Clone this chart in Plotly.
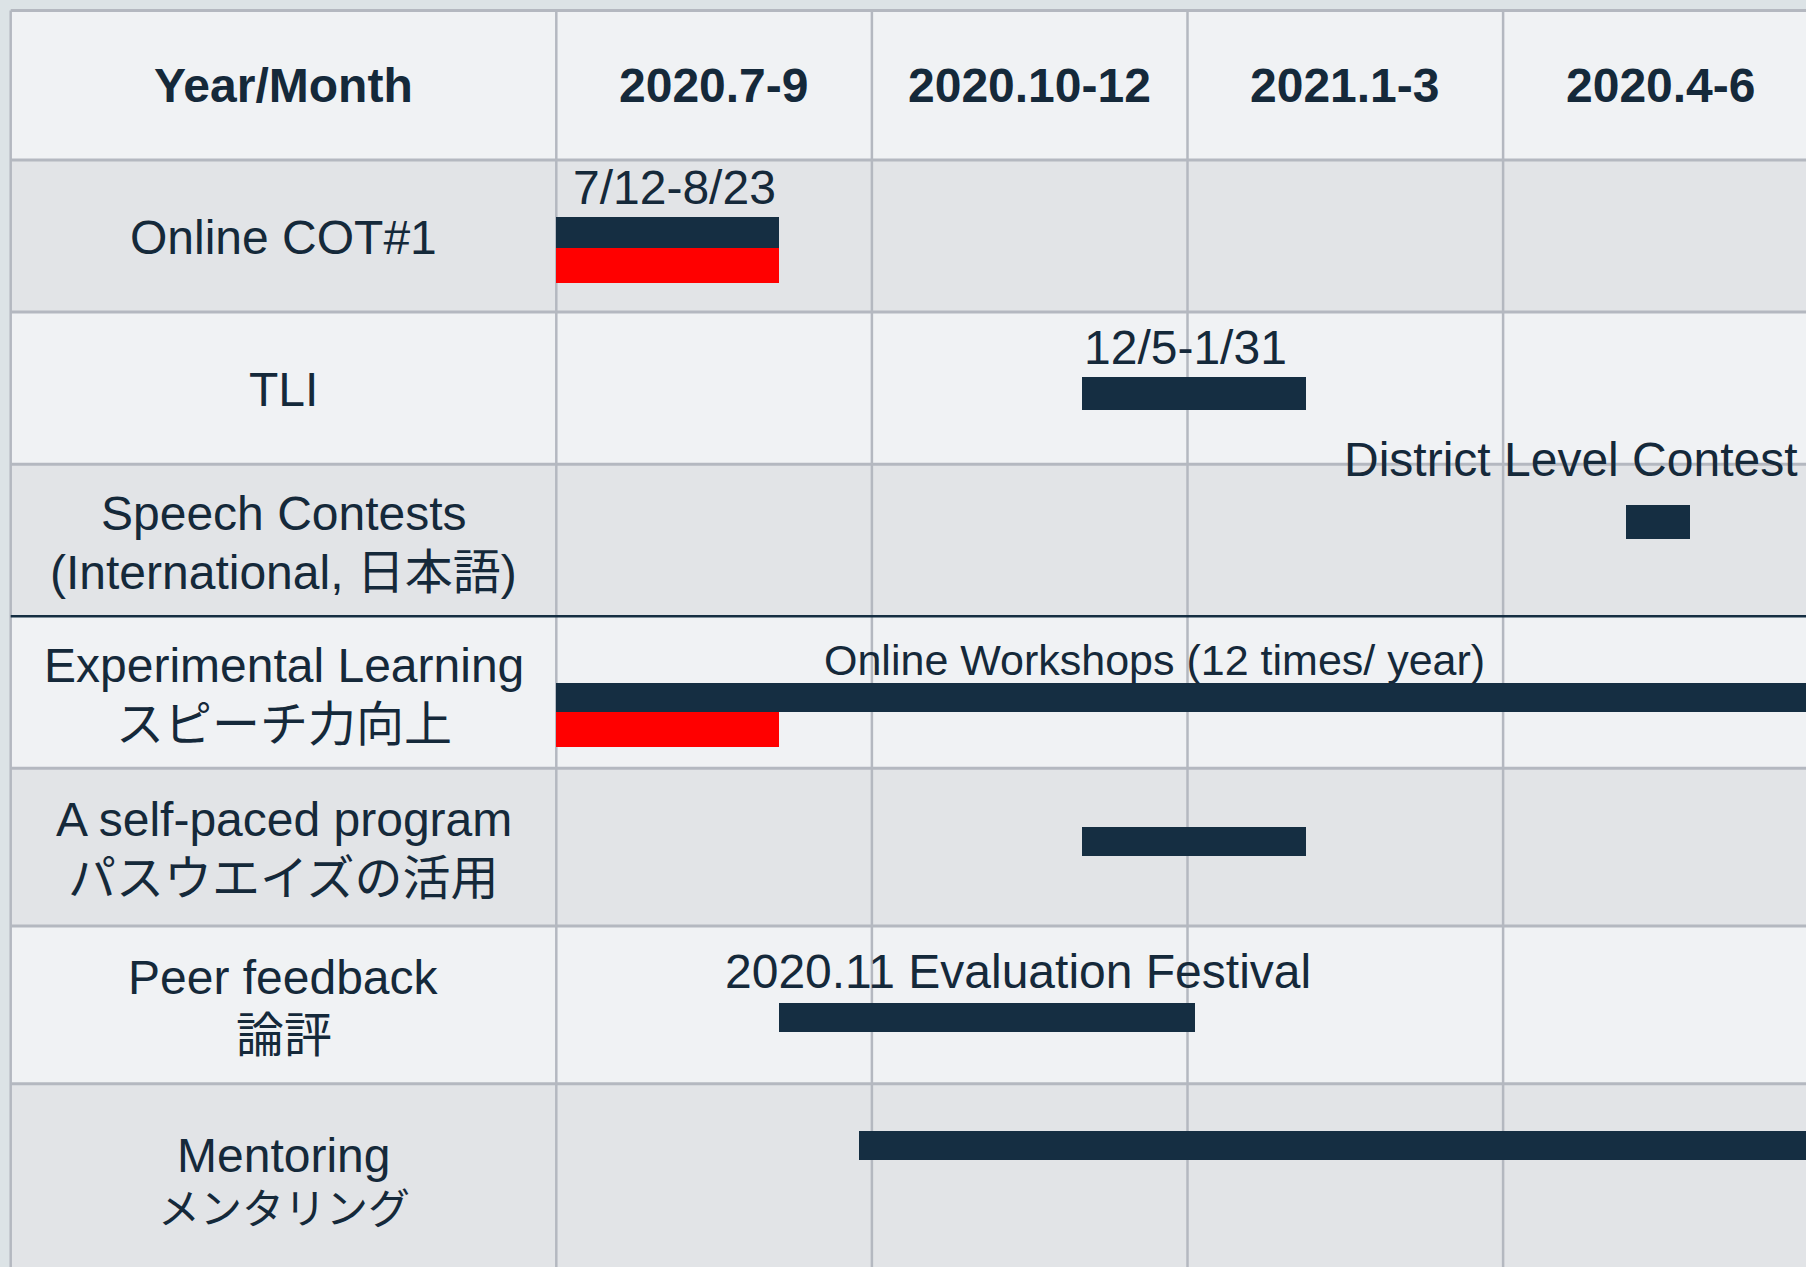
import plotly.graph_objects as go

# ---------------- data ----------------
header_labels = ["Year/Month", "2020.7-9", "2020.10-12", "2021.1-3", "2020.4-6"]
quarter_start_month = [0, 3, 6, 9]          # months since 2020-07

tasks = [
    "Online COT#1",
    "TLI",
    "Speech Contests<br>(International, 日本語)",
    "Experimental Learning<br>スピーチ力向上",
    "A self-paced program<br>パスウエイズの活用",
    "Peer feedback<br>論評",
    "Mentoring<br>メンタリング",
]

# bars: task index, start / end in months since 2020-07-01, status
bar_task = [0, 0, 1, 2, 3, 3, 4, 5, 6]
bar_start = [0.0, 0.0, 5.0, 10.17, 0.0, 0.0, 5.0, 2.12, 2.88]
bar_end = [2.12, 2.12, 7.13, 10.78, 12.0, 2.12, 7.13, 6.07, 12.0]
bar_status = ["plan", "done", "plan", "plan", "plan", "done", "plan", "plan", "plan"]

# notes written above bars
note_task = [0, 1, 2, 3, 5]
note_text = ["7/12-8/23", "12/5-1/31", "District Level Contest",
             "Online Workshops (12 times/ year)", "2020.11 Evaluation Festival"]
note_month = [1.12, 5.98, 9.65, 5.69, 4.39]

# ---------------- layout / style ----------------
W, H = 1806, 1267
X0_PX, MONTH_PX = 556.3, 105.2            # pixel of month 0, pixels per month
XMIN = -X0_PX / MONTH_PX
XMAX = (W - X0_PX) / MONTH_PX
TABLE_LEFT = (10.7 - X0_PX) / MONTH_PX
TABLE_RIGHT = XMAX + 1

HEADER_TOP = 10.4
ROW_EDGES = [160.1, 312.1, 464.2, 616.2, 768.2, 926.1, 1083.8, 1278.0]
# bar centre offset from row top (px) and thickness (px), same order as bars
BAR_OFFSET = [72.6, 105.4, 81.2, 57.8, 81.6, 113.3, 73.2, 91.7, 61.9]
BAR_THICK = [31.6, 34.2, 33.4, 34.0, 29.0, 34.4, 29.0, 29.0, 29.0]
NOTE_OFFSET = [27.6, 35.8, -5.0, 44.0, 45.0]   # note centre offset from row top
NOTE_SIZE = [48, 48, 48, 43, 48]
# label line centres (px) and sizes per task line
LINE_GAP = 58.7
LABEL_SHIFT = [1.0, 1.0, 3.0, 2.5, 2.0, 1.6, 0.0]
LINE_SIZE = {(6, 1): 42}
MENTOR_LINE_Y = [1155.0, 1209.5]

TEXT = "#15293a"
NAVY = "#152e42"
RED = "#ff0000"
LIGHT = "#f0f2f4"
GRAY = "#e2e4e7"
FRAME = "#dce3e6"
GRID = "#b4b8c0"
FONT = "Liberation Sans, Arial, Noto Sans CJK JP, sans-serif"
FS = 48

STATUS_COLOR = {"plan": NAVY, "done": RED}

fig = go.Figure()

for status in ["plan", "done"]:
    idx = [i for i, s in enumerate(bar_status) if s == status]
    fig.add_trace(go.Bar(
        orientation="h",
        base=[bar_start[i] for i in idx],
        x=[bar_end[i] - bar_start[i] for i in idx],
        y=[ROW_EDGES[bar_task[i]] + BAR_OFFSET[i] for i in idx],
        width=[BAR_THICK[i] for i in idx],
        marker=dict(color=STATUS_COLOR[status], line=dict(width=0)),
        hoverinfo="skip",
        showlegend=False,
    ))

shapes = []
# header background
shapes.append(dict(type="rect", xref="x", yref="y", x0=TABLE_LEFT, x1=TABLE_RIGHT,
                   y0=HEADER_TOP, y1=ROW_EDGES[0], fillcolor=LIGHT, line_width=0, layer="below"))
# row backgrounds
for i in range(len(tasks)):
    shapes.append(dict(type="rect", xref="x", yref="y", x0=TABLE_LEFT, x1=TABLE_RIGHT,
                       y0=ROW_EDGES[i], y1=ROW_EDGES[i + 1],
                       fillcolor=GRAY if i % 2 == 0 else LIGHT, line_width=0, layer="below"))
# vertical grid lines
for xv in [TABLE_LEFT] + quarter_start_month:
    shapes.append(dict(type="line", xref="x", yref="y", x0=xv, x1=xv, y0=HEADER_TOP, y1=H + 20,
                       line=dict(color=GRID, width=2.5), layer="below"))
# horizontal grid lines
for j, yv in enumerate([HEADER_TOP] + ROW_EDGES[:-1]):
    dark = (j == 4)
    shapes.append(dict(type="line", xref="x", yref="y", x0=TABLE_LEFT, x1=TABLE_RIGHT, y0=yv, y1=yv,
                       line=dict(color=NAVY if dark else GRID, width=2.5 if dark else 3),
                       layer="below"))

annotations = []
# header texts
col_centres = [TABLE_LEFT / 2] + [m + 1.5 for m in quarter_start_month]
for lbl, xc in zip(header_labels, col_centres):
    annotations.append(dict(x=xc, y=(HEADER_TOP + ROW_EDGES[0]) / 2, xref="x", yref="y",
                            text="<b>" + lbl + "</b>", showarrow=False,
                            xanchor="center", yanchor="middle",
                            font=dict(family=FONT, size=FS, color=TEXT)))
# task labels (one annotation per line)
for i, t in enumerate(tasks):
    lines = t.split("<br>")
    centre = (ROW_EDGES[i] + ROW_EDGES[i + 1]) / 2 + LABEL_SHIFT[i]
    for k, ln in enumerate(lines):
        if i == 6:
            yv = MENTOR_LINE_Y[k]
        else:
            yv = centre + (k - (len(lines) - 1) / 2) * LINE_GAP
        annotations.append(dict(x=TABLE_LEFT / 2, y=yv,
                                xref="x", yref="y", text=ln, showarrow=False,
                                xanchor="center", yanchor="middle", align="center",
                                font=dict(family=FONT, size=LINE_SIZE.get((i, k), FS), color=TEXT)))
# notes
for k in range(len(note_text)):
    annotations.append(dict(x=note_month[k], y=ROW_EDGES[note_task[k]] + NOTE_OFFSET[k],
                            xref="x", yref="y", text=note_text[k], showarrow=False,
                            xanchor="center", yanchor="middle",
                            font=dict(family=FONT, size=NOTE_SIZE[k], color=TEXT)))

fig.update_layout(
    width=W, height=H,
    margin=dict(l=0, r=0, t=0, b=0, pad=0),
    paper_bgcolor=FRAME, plot_bgcolor=FRAME,
    barmode="overlay", bargap=0,
    xaxis=dict(range=[XMIN, XMAX], visible=False, fixedrange=True),
    yaxis=dict(range=[H, 0], visible=False, fixedrange=True),
    shapes=shapes, annotations=annotations,
    showlegend=False,
)

fig.write_html("out.html", config={"displayModeBar": False},
               post_script="document.body.style.margin='0';document.body.style.overflow='hidden';")
